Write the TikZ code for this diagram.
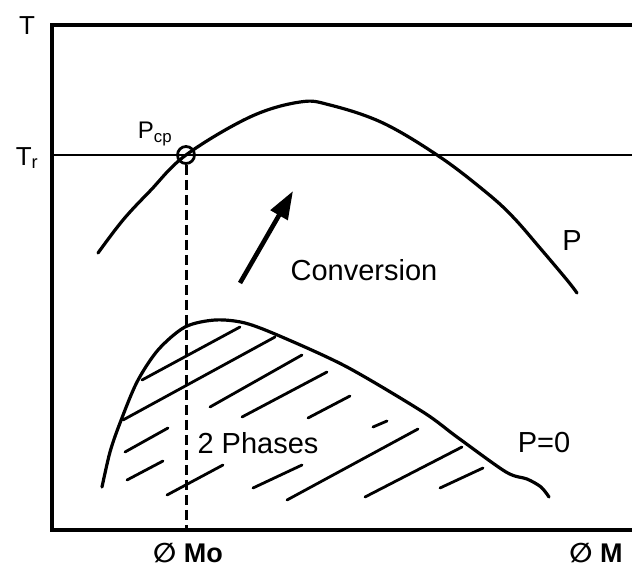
\documentclass[tikz,border=0pt]{standalone}
\usepackage{fontspec}
\setmainfont{Liberation Sans}
\newfontfamily\symfont{DejaVu Sans}
\usetikzlibrary{arrows.meta}

\tikzset{
  frameline/.style={line width=4.6pt, line join=miter},
  curveline/.style={line width=3.2pt, line cap=round},
  hatchline/.style={line width=2.8pt, line cap=round},
  dropline/.style={line width=3pt, dash pattern=on 10pt off 5pt},
  convarrow/.style={line width=4.6pt, -{Triangle[length=28pt, width=19pt]}},
  biglabel/.style={inner sep=0pt, font=\fontsize{29}{31}\selectfont},
  smalllabel/.style={inner sep=0pt, font=\fontsize{26}{28}\selectfont},
  axislabel/.style={inner sep=0pt, font=\fontsize{27}{29}\selectfont\bfseries},
}

\begin{document}
\begin{tikzpicture}[x=1pt, y=-1pt]
    % Fix the size of the picture
    \useasboundingbox (0,0) rectangle (632,568);

    % Draw the frame of the diagram
    \draw[frameline] (632,25) -- (52,25) -- (52,530) -- (632,530);

    % Reference temperature line
    \draw[line width=2.2pt] (52,155) -- (632,155);

    % Curve P
    \draw[curveline] plot[smooth, tension=0.6] coordinates {(98,253) (123,220) (150,191) (186,155) (250,117) (300,102) (330,105) (383,123) (440,157) (487,193) (513,217) (540,248) (567,280) (577,293)};

    % Curve P=0
    \draw[curveline] plot[smooth, tension=0.5] coordinates {(102,487) (110,452) (120,423) (137,382) (158,350) (185,327) (215,320) (245,323) (282,337) (347,367) (423,412) (457,437) (506,472) (527,479) (541,487) (549,497)};

    % Hatching of the two phase region
    \foreach \xa/\ya/\xb/\yb in {142/380/240/327, 123/420/275/337, 210/407/302/355,
      242/417/327/372, 308/418/350/396, 373/427/387/421, 125/452/168/428,
      127/480/163/461, 167/495/223/465, 253/488/302/465, 287/500/418/429,
      365/497/462/447, 440/488/483/468}
      \draw[hatchline] (\xa,\ya) -- (\xb,\yb);

    % Point Pcp and the line down to the axis
    \node[circle, draw, line width=2.8pt, minimum size=17pt, inner sep=0pt] (pcp) at (186,155) {};
    \coordinate (moBase) at (186,530);
    \draw[dropline] (pcp.south) -- (moBase);

    % Conversion arrow
    \coordinate (convTail) at (240,283);
    \coordinate (convTip) at (293,191);
    \draw[convarrow] (convTail) -- (convTip);

    % Text
    \node[smalllabel] (tAxis) at (27,26) {T};
    \node[smalllabel] (trLabel) at (27,158) {T\textsubscript{r}};
    \node[smalllabel, font=\fontsize{24}{26}\selectfont] (pcpLabel) at (155,134) {P\textsubscript{cp}};
    \node[biglabel] (convLabel) at (364,270) {Conversion};
    \node[biglabel] (pLabel) at (572,241) {P};
    \node[biglabel] (phaseLabel) at (258,443) {2 Phases};
    \node[biglabel] (pzeroLabel) at (544,443) {P=0};
    \node[axislabel] (moLabel) at (188,553) {{\symfont ∅} Mo};
    \node[axislabel] (mLabel) at (596,553) {{\symfont ∅} M};
\end{tikzpicture}
\end{document}
